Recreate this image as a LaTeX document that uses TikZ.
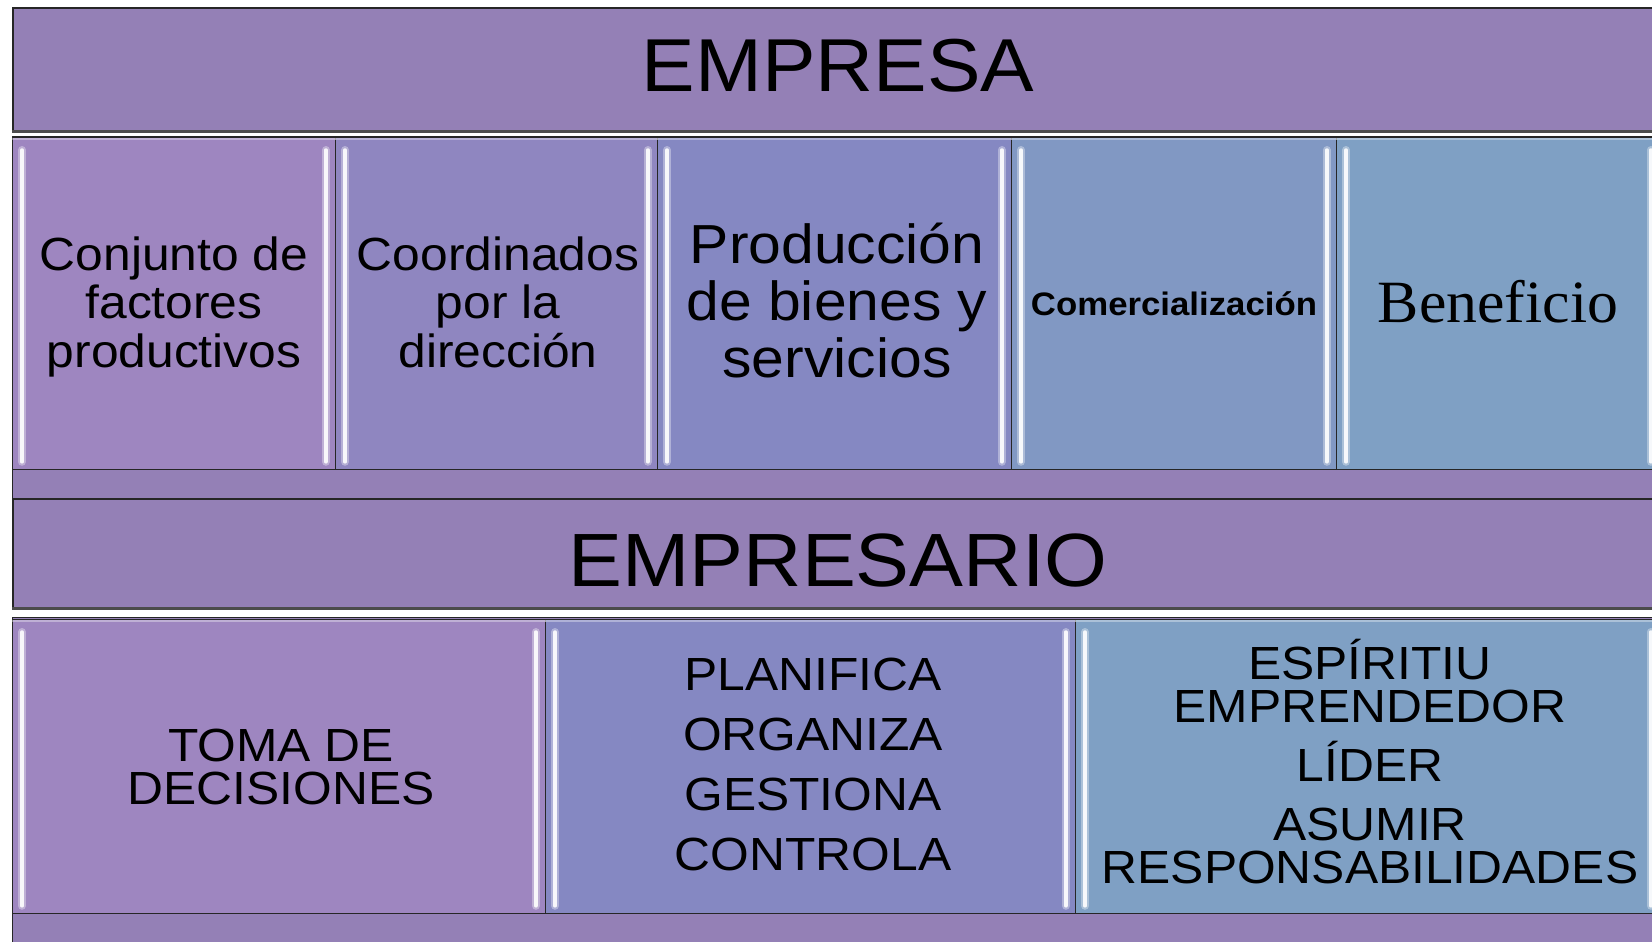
\documentclass[tikz,border=0pt]{standalone}
\usepackage{fontspec}
\setmainfont{Liberation Sans}[FakeStretch=1.07]
\newfontfamily\benefont{Liberation Serif}[FakeStretch=1.03]
\definecolor{barP}{HTML}{9480B6}
\definecolor{cA}{HTML}{9E86C0}
\definecolor{cB}{HTML}{8F86C0}
\definecolor{cC}{HTML}{8588C2}
\definecolor{cD}{HTML}{8198C3}
\definecolor{cE}{HTML}{7FA0C4}
\definecolor{edgeC}{HTML}{262626}
\tikzset{
  barbox/.style={fill=barP, draw=edgeC, line width=1.6pt, inner sep=0pt, anchor=north west},
  panelbox/.style={fill=barP, draw=edgeC, line width=1.2pt, inner sep=0pt, anchor=north west},
  cellbox/.style={draw=edgeC, line width=0.8pt, inner sep=0pt, anchor=north west},
  hlo/.style={line width=8pt, white, opacity=0.35, line cap=round},
  hli/.style={line width=3.5pt, white, opacity=0.9, line cap=round},
  topglow/.style={line width=2pt, white, opacity=0.35},
  shade/.style={line width=3pt, black!70},
  title/.style={anchor=base, font=\fontsize{75}{80}\selectfont},
  celltext/.style={anchor=base, align=center, font=\fontsize{46.5}{48.5}\selectfont},
  caps/.style={anchor=base, align=center, font=\fontsize{46.5}{43}\selectfont},
}
\begin{document}
\begin{tikzpicture}[x=1pt,y=-1pt]
\useasboundingbox (0,0) rectangle (1652,942);
\clip (0,0) rectangle (1652,942);
\fill[white] (0,0) rectangle (1652,942);

% top bar
\node[barbox, minimum width=1652pt, minimum height=124pt] (empresa) at (12,7) {};
\draw[shade] ([yshift=1.5pt]empresa.south west) -- ([yshift=1.5pt]empresa.south east);
\node[title] (tempresa) at (838,92) {EMPRESA};

% row 1 panel
\node[panelbox, minimum width=1652pt, minimum height=362pt] (panel1) at (12,136) {};
\node[cellbox, fill=cA, minimum width=323pt, minimum height=332pt] (c11) at (12,137) {};
\node[cellbox, fill=cB, minimum width=322pt, minimum height=332pt] (c12) at (335,137) {};
\node[cellbox, fill=cC, minimum width=354pt, minimum height=332pt] (c13) at (657,137) {};
\node[cellbox, fill=cD, minimum width=325pt, minimum height=332pt] (c14) at (1011,137) {};
\node[cellbox, fill=cE, minimum width=324pt, minimum height=332pt] (c15) at (1336,137) {};

% empresario bar
\node[barbox, minimum width=1652pt, minimum height=110pt] (empresario) at (12,498) {};
\draw[shade] ([yshift=1.5pt]empresario.south west) -- ([yshift=1.5pt]empresario.south east);
\node[title, font=\fontsize{75.5}{80}\selectfont] (tempresario) at (838,586) {EMPRESARIO};

% row 2 panel
\node[panelbox, minimum width=1652pt, minimum height=343pt] (panel2) at (12,617) {};
\node[cellbox, fill=cA, minimum width=533pt, minimum height=294pt] (c21) at (12,619) {};
\node[cellbox, fill=cC, minimum width=530pt, minimum height=294pt] (c22) at (545,619) {};
\node[cellbox, fill=cE, minimum width=585pt, minimum height=294pt] (c23) at (1075,619) {};

% bevel highlights
\foreach \n in {c11,c12,c13,c14,c15,c21,c22,c23}{
  \draw[topglow] ([yshift=-2pt]\n.north west) -- ([yshift=-2pt]\n.north east);
  \draw[hlo] ([xshift=10pt,yshift=-13pt]\n.north west) -- ([xshift=10pt,yshift=8pt]\n.south west);
  \draw[hli] ([xshift=10pt,yshift=-13pt]\n.north west) -- ([xshift=10pt,yshift=8pt]\n.south west);
  \draw[hlo] ([xshift=-10pt,yshift=-13pt]\n.north east) -- ([xshift=-10pt,yshift=8pt]\n.south east);
  \draw[hli] ([xshift=-10pt,yshift=-13pt]\n.north east) -- ([xshift=-10pt,yshift=8pt]\n.south east);
}

% row 1 texts (anchor base = last line baseline)
\node[celltext] (t11) at (174,367) {Conjunto de\\factores\\productivos};
\node[celltext] (t12) at (498,367) {Coordinados\\por la\\dirección};
\node[celltext, font=\fontsize{55}{57}\selectfont] (t13) at (837,377) {Producción\\de bienes y\\servicios};
\node[anchor=base, font=\fontsize{32.5}{36}\selectfont\bfseries] (t14) at (1174,315) {Comercialización};
\node[anchor=base, font=\fontsize{60}{64}\selectfont\benefont] (t15) at (1498,322) {Beneficio};

% row 2 texts
\node[caps] (t21) at (281,804) {TOMA DE\\DECISIONES};
\node[caps] (t22) at (813,870) {PLANIFICA\\[17pt]ORGANIZA\\[17pt]GESTIONA\\[17pt]CONTROLA};
\node[caps] (t23) at (1370,883) {ESPÍRITIU\\EMPRENDEDOR\\[16pt]LÍDER\\[16pt]ASUMIR\\RESPONSABILIDADES};
\end{tikzpicture}
\end{document}
